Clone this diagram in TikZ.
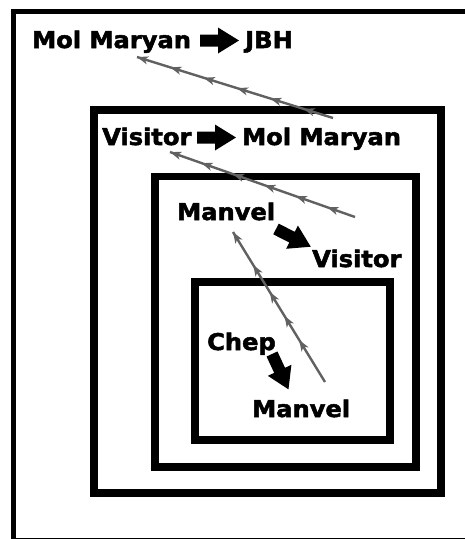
\documentclass[tikz,border=0pt]{standalone}
\usepackage{fontspec}
\newfontfamily\lblfont{DejaVu Sans}[FakeStretch=1.05,FakeBold=2.2]
\usetikzlibrary{arrows.meta,decorations.markings}
\tikzset{
  lbl/.style={font=\lblfont\bfseries\fontsize{23}{27}\selectfont, inner sep=0pt, anchor=base west},
  frame/.style={draw=black, line width=7.5pt},
  outerframe/.style={draw=black, line width=5pt},
  flow/.style={draw=black!62, line width=2.4pt, postaction={decorate},
    decoration={markings,
      mark=at position 0.15 with {\arrow{Stealth[length=11pt,width=8pt,inset=3pt]}},
      mark=at position 0.32 with {\arrow{Stealth[length=11pt,width=8pt,inset=3pt]}},
      mark=at position 0.49 with {\arrow{Stealth[length=11pt,width=8pt,inset=3pt]}},
      mark=at position 0.66 with {\arrow{Stealth[length=11pt,width=8pt,inset=3pt]}},
      mark=at position 0.83 with {\arrow{Stealth[length=11pt,width=8pt,inset=3pt]}},
      mark=at position 0.999 with {\arrow{Stealth[length=11pt,width=8pt,inset=3pt]}}}},
  flowc/.style={draw=black!62, line width=2.4pt, postaction={decorate},
    decoration={markings,
      mark=at position 0.28 with {\arrow{Stealth[length=11pt,width=8pt,inset=3pt]}},
      mark=at position 0.44 with {\arrow{Stealth[length=11pt,width=8pt,inset=3pt]}},
      mark=at position 0.60 with {\arrow{Stealth[length=11pt,width=8pt,inset=3pt]}},
      mark=at position 0.78 with {\arrow{Stealth[length=11pt,width=8pt,inset=3pt]}},
      mark=at position 0.999 with {\arrow{Stealth[length=11pt,width=8pt,inset=3pt]}}}},
  blk/.style={fill=black}
}
\newcommand{\blockarr}[2]{%
  \begin{scope}[shift={#1}, rotate=#2]
    \fill[blk] (0pt,6pt) -- (18pt,6pt) -- (18pt,13pt) -- (39pt,0pt) -- (18pt,-13pt) -- (18pt,-6pt) -- (0pt,-6pt) -- cycle;
  \end{scope}}
\begin{document}
\begin{tikzpicture}[x=1pt,y=-1pt]
\useasboundingbox (0,0) rectangle (465,539);
\fill[white] (0,0) rectangle (465,539);
% frames
\draw[outerframe] (13.5,11.5) rectangle (474,540.5);
\draw[frame] (94,110) rectangle (441,493);
\draw[frame] (155,176.5) rectangle (416,467);
\draw[frame] (195,282) rectangle (390,440);
% labels
\node[lbl] (mm1) at (32,48) {Mol Maryan};
\node[lbl] (jbh) at (245,48) {JBH};
\node[lbl] (vis1) at (102,145) {Visitor};
\node[lbl] (mm2) at (242,145) {Mol Maryan};
\node[lbl] (man1) at (177,220) {Manvel};
\node[lbl] (vis2) at (312,267) {Visitor};
\node[lbl] (chep) at (207,350) {Chep};
\node[lbl] (man2) at (252,417) {Manvel};
% block arrows
\blockarr{(200,40.5)}{0}
\blockarr{(197,137.5)}{0}
\blockarr{(276,229)}{-27}
\blockarr{(272,354)}{-65}
% flow lines
\coordinate (a1) at (333,118);
\coordinate (a2) at (137,57);
\coordinate (b1) at (355,217);
\coordinate (b2) at (170,152);
\coordinate (c1) at (325,382);
\coordinate (c2) at (233,232);
\draw[flow] (a1) -- (a2);
\draw[flow] (b1) -- (b2);
\draw[flowc] (c1) -- (c2);
\end{tikzpicture}
\end{document}
